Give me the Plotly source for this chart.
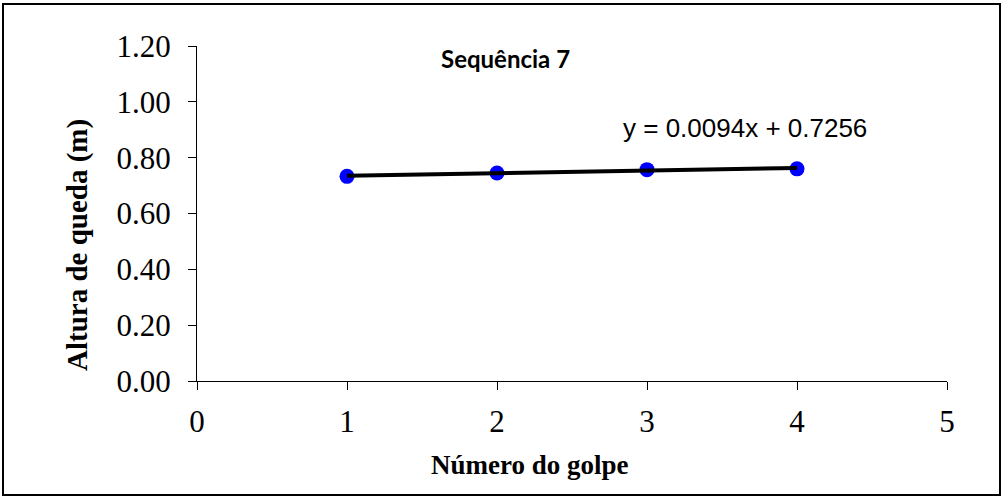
import plotly.graph_objects as go

golpe = [1, 2, 3, 4]
altura = [0.733, 0.745, 0.757, 0.760]
slope = 0.0094
intercept = 0.7256
x_ticks = [0, 1, 2, 3, 4, 5]
y_ticks = [0.0, 0.2, 0.4, 0.6, 0.8, 1.0, 1.2]
y_ticklabels = ["0.00", "0.20", "0.40", "0.60", "0.80", "1.00", "1.20"]

trend_x = [golpe[0], golpe[-1]]
trend_y = [slope * v + intercept for v in trend_x]

fig = go.Figure()
fig.add_trace(go.Scatter(x=golpe, y=altura, mode="markers",
                         marker=dict(color="#0000FF", size=15), showlegend=False))
fig.add_trace(go.Scatter(x=trend_x, y=trend_y, mode="lines",
                         line=dict(color="black", width=4), showlegend=False))

serif = "Liberation Serif, Times New Roman, serif"
fig.update_layout(
    width=1001, height=501,
    margin=dict(l=197, r=54, t=46, b=120),
    paper_bgcolor="white", plot_bgcolor="white",
    xaxis=dict(range=[0, 5], tickvals=x_ticks, showgrid=False, zeroline=False,
               showline=True, linecolor="black", linewidth=1,
               ticks="outside", ticklen=8, tickcolor="black", ticklabelstandoff=5,
               tickfont=dict(family=serif, size=31, color="black")),
    yaxis=dict(range=[0, 1.2], tickvals=y_ticks, ticktext=y_ticklabels,
               showgrid=False, zeroline=False,
               showline=True, linecolor="black", linewidth=1,
               ticks="outside", ticklen=8, tickcolor="black", ticklabelstandoff=11,
               tickfont=dict(family=serif, size=31, color="black")),
    shapes=[dict(type="rect", xref="paper", yref="paper",
                 x0=-194/750, x1=(1000-197)/750, y0=-(495-381)/335, y1=(381-4)/335,
                 line=dict(color="black", width=2))],
    annotations=[
        dict(text="<b>Número do golpe</b>", xref="paper", yref="paper",
             x=(530-197)/750, y=-(465-381)/335, showarrow=False,
             xanchor="center", yanchor="middle",
             font=dict(family=serif, size=27, color="black")),
        dict(text="<b>Altura de queda (m)</b>", xref="paper", yref="paper",
             x=-(197-77)/750, y=(381-245)/335, showarrow=False, textangle=-90,
             xanchor="center", yanchor="middle",
             font=dict(family=serif, size=29, color="black")),
        dict(text="<b>Sequência 7</b>", xref="paper", yref="paper",
             x=(505-197)/750, y=(381-58)/335, showarrow=False,
             xanchor="center", yanchor="middle",
             font=dict(family="Lato, sans-serif", size=24, color="black")),
        dict(text="y = 0.0094x + 0.7256", xref="paper", yref="paper",
             x=(745-197)/750, y=(381-128)/335, showarrow=False,
             xanchor="center", yanchor="middle",
             font=dict(family="Liberation Sans, Arial, sans-serif", size=26, color="black")),
    ],
)

fig.write_html("out.html")
